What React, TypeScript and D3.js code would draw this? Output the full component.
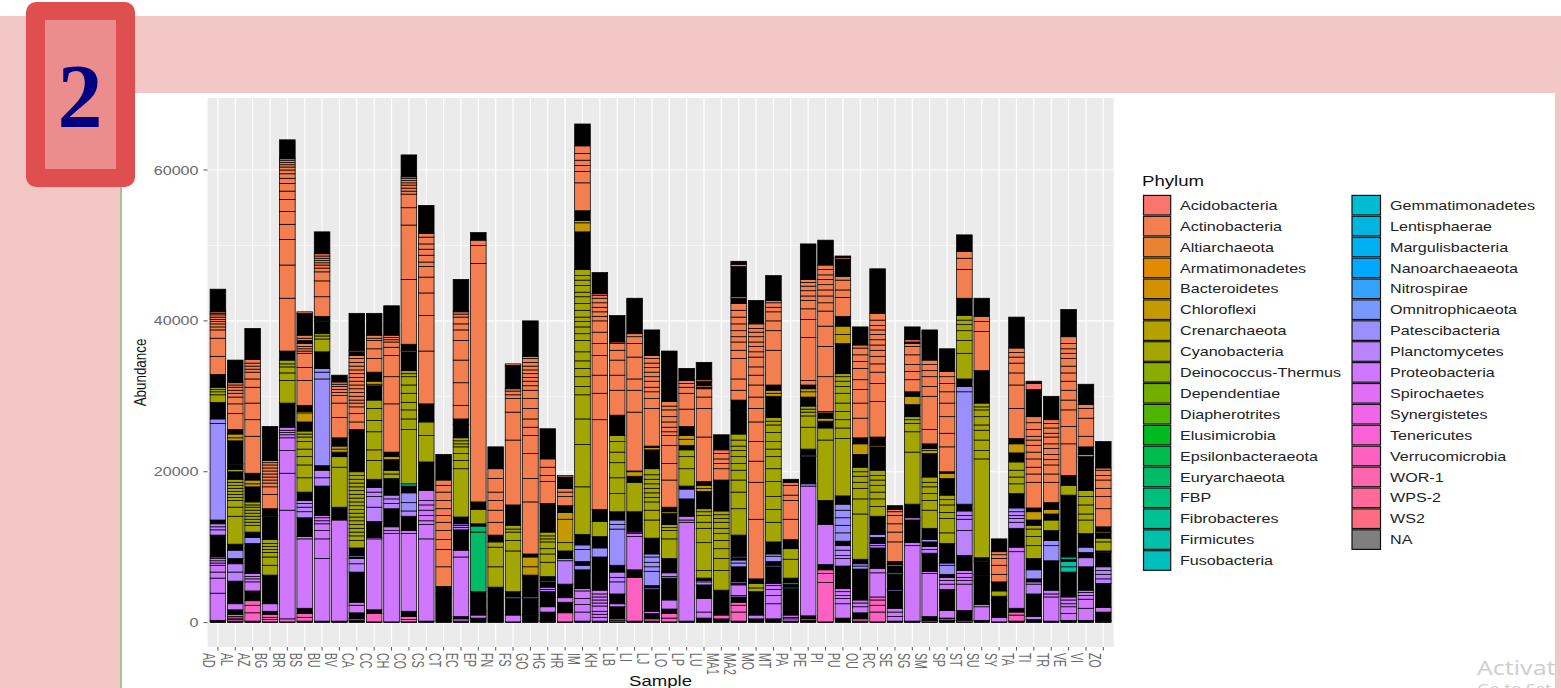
import React from "react";
import * as d3 from "d3";

const phylaLeft = ["Acidobacteria","Actinobacteria","Altiarchaeota","Armatimonadetes","Bacteroidetes","Chloroflexi","Crenarchaeota","Cyanobacteria","Deinococcus-Thermus","Dependentiae","Diapherotrites","Elusimicrobia","Epsilonbacteraeota","Euryarchaeota","FBP","Fibrobacteres","Firmicutes","Fusobacteria"];
const coloursLeft = ["#F8766D","#F37F50","#EA8331","#E08B00","#D29100","#C49A00","#B5A000","#A3A500","#8AAB00","#72AE00","#4FB400","#00BA1E","#00BB4E","#00BC68","#00BF7D","#00C094","#00C0A8","#00BFBC"];
const phylaRight = ["Gemmatimonadetes","Lentisphaerae","Margulisbacteria","Nanoarchaeaeota","Nitrospirae","Omnitrophicaeota","Patescibacteria","Planctomycetes","Proteobacteria","Spirochaetes","Synergistetes","Tenericutes","Verrucomicrobia","WOR-1","WPS-2","WS2","NA"];
const coloursRight = ["#00BCD0","#00B6E0","#00B0F0","#00A8FF","#35A2FF","#7698FF","#9B8FFF","#BA83FF","#CF78FF","#E36EF6","#F166E8","#FB61D7","#FF61C2","#FF65AE","#FF6A98","#FF6C81","#7F7F7F"];

// codes used in the stacks; K is where the many thin OTU outlines merge into solid black
const K = "#000000", A = "#F37F50", R = "#F8766D", G = "#C49A00", C = "#A3A500", E = "#00BC68", F = "#00C0A8", T = "#9B8FFF", L = "#BA83FF", P = "#CF78FF", V = "#FF61C2";

// each run: colour, then the cumulative tops of its segments (thousands of reads), bottom to top
const AD = [[K,.3],[P,3.9,5.9,6.7,7.6,7.9,8.2,8.5,8.7],[K,11.6],[L,12.3,12.7,13.1],[K,13.6],[T,26.4,27],[K,29.2],[C,30.2,30.6,30.9,31.2],[K,32.9],[A,35.3,37.7,38.8,39.2,39.6,39.9,40.2,40.5,40.8,41],[R,41.2],[K,44.2]];
const AL = [[K,.2],[V,.4,.6,.8,1.1],[K,1.7],[P,2.5],[K,5.5],[L,6.7,7.8],[K,8.5],[T,9.6],[K,10.4],[C,14.1,15.3,16.2,16.6,17,17.4,17.8,18.2,18.6,19],[K,20],[C,20.3],[K,21],[C,21.1],[K,24.1],[G,24.5,25],[K,25.6],[A,27.7,29,29.9,30.4,30.8,31.2,31.5,31.8],[K,34.8]];
const AZ = [[K,.2],[V,1.3,2.3,2.9],[K,4.2],[P,5.4,5.8,6.1,6.5],[K,9.8],[P,9.9],[K,10.5],[T,11.3],[K,12],[C,12.9,13.3,13.7,14.1,14.5,14.9,15.3,15.6,16],[K,18],[G,18.4,18.9],[K,19.8],[A,24.7,26.9,29.1,31.2,32.3,33.2,33.6,34,34.4,34.9],[K,39]];
const BG = [[K,.1],[V,.4,.7,1.1],[K,1.5],[P,2.5],[K,6.3],[C,7.6,8.7,9.3,9.7,10.1,10.5,11],[K,14.1],[G,14.2],[K,15.1],[A,17,18,18.5,18.9,19.3,19.7,20.1,20.5,20.9,21.2,21.5],[K,26]];
const BR = [[K,.1],[V,.5],[P,14.9,19.8,22.8,24.5,24.9,25.2,25.5,25.9],[K,29.1],[C,32.1,33.1,33.9,34.3,34.8],[K,36],[A,43,47.4,50.8,52.8,54.5,56.1,57.2,58.2,58.9,59.5,60,60.4,60.7,61,61.3,61.5],[K,64]];
const BS = [[K,.2],[V,.7,1.2],[K,1.9],[P,11.1,11.4],[K,13.9],[L,14.7,15.3,15.8,16.2],[K,17.3],[C,19.2,20.9,22,23,24,24.6,25,25.4],[K,26.6],[G,27.8,28],[K,28.8],[A,32.1,33.8,35.7,36,36.3,36.6,37],[K,37.4],[A,37.7,38.1],[K,41],[R,41.2]];
const BU = [[K,.2],[P,8.5,11.1,12.2,13.1,13.5,13.9,14.2],[K,18.1],[L,19.2,20.2],[K,20.8],[T,32.3,33.2,33.7],[K,35.9],[C,37.6,38,38.3],[K,39.9],[G,40],[K,40.6],[A,43.2,45.3,46.5,47,47.4,47.7,48,48.3,48.6,48.9],[K,51.8]];
const BV = [[K,.2],[P,13.6],[K,15.3],[C,20.6,22],[K,22.6],[G,23,23.4],[K,24.5],[A,27.2,29.1,30.1,30.5,30.9,31.3,31.6,31.9],[K,32.8]];
const CA = [[K,.3],[V,.5],[K,1.3],[P,2.3,2.7],[K,6.7],[L,7.8,8.5],[K,8.7],[T,8.9],[K,9.9],[C,10.9,11.5,12,12.5,13,13.5,14,14.5,15,15.5,16,16.5,17,17.5,18,18.5,19,19.5,20],[K,25],[G,25.1],[K,25.6],[A,26.6,27.7,28.6,29.1,29.5,30,30.5,31,31.5,32,32.5,33,33.5,34,34.5,35,35.4],[K,35.9],[A,36.1],[K,41]];
const CC = [[K,.1],[V,1.2],[K,1.7],[P,11.1,11.3],[K,13.4],[L,15.3,16.7,17.3,17.9],[K,19],[C,21.5,22.9,25.3,26.8,28.4,29.5],[K,31.4],[G,31.6,32],[K,33.2],[A,35,36.3,37.4,37.7,38.1],[K,41]];
const CH = [[K,.1],[P,11.8,12.2,12.7],[K,15.1],[L,15.8,16.4,16.9],[K,19.1],[C,19.7,20.2],[K,21.6],[G,22],[K,22.6],[A,29,32.6,35.4,36.5,37.2,37.5,37.8,38.1],[K,42]];
const CO = [[K,.1],[V,.4,.8],[K,1.5],[P,11.8,12.2],[K,14.1],[L,14.8],[T,15.9,17.2],[K,18.1],[F,18.4],[C,25.6,27,28.2,29.2,30.4,31.5,32.6,33,33.4],[K,35.9],[G,36.1],[K,36.9],[A,45.5,52.7,55,56.8,57.2,57.6,58,58.3,58.6,58.9,59.1],[K,62]];
const CS = [[K,.2],[P,11.1,13,13.5,14.2,14.9,15.6,16.2,17.5],[K,21.3],[C,24.8,26.6],[K,29],[A,36,40.7,43.7,45.8,47.2,47.8,48.7,49.5,50.2,51.1,51.6],[K,55.3]];
const CT = [[K,3.8],[G,3.9],[K,4.8],[A,7.4,9.7,11,12.2,13.3,14.2,15.1,16.2,17.3,18.2,18.9],[K,22.3]];
const EC = [[K,.2],[P,.5],[K,.8],[P,8.7,9.6],[K,12.3],[L,12.6,12.9],[T,13.1],[K,14],[C,20.4,21.5,22.4,23.3,23.7,24.1,24.5],[K,26.2],[G,26.3],[K,27],[A,28.8,31.8,34.8,37.4,38.8,39.6,40.5,40.9,41.2],[K,45.5]];
const EP = [[K,.6],[P,1],[K,1.4],[T,1.5],[K,3],[T,3.1],[K,4.1],[E,12,12.8],[K,13.1],[C,15],[K,16],[A,47.6,50,50.7],[K,51.7]];
const FN = [[K,4.7],[C,7.4,10,10.7],[K,11.6],[A,13.3,14.9,16.2,17.3,19.1,20.4],[K,23.3]];
const FS = [[K,.1],[P,1],[K,3.2],[T,3.4],[K,4.1],[C,9.5,10.9,12,12.4,12.9],[K,15.6],[A,24.2,27.9,29.7,30.2,30.7,31],[K,34.1],[R,34.3]];
const GO = [[K,1],[P,1.1],[K,3.2],[T,3.4],[K,5.8],[G,5.9],[K,6.3],[G,7.4,8.7],[K,9.1],[A,16,19.1,22.4,24.8,25.9,27,28.4,29.7,30.8,31.4,32,32.5,33,33.5,34,34.5,35,35.3],[K,40]];
const HG = [[K,.2],[V,.3],[K,1.4],[P,2.1],[K,4.1],[L,4.4,4.7],[K,5.4],[E,5.6],[K,6.1],[C,8,9.1,9.8,10.7,11.1,11.5,12],[K,15.8],[A,18.7,19.5,20.6,21.7],[K,25.7]];
const HR = [[K,.1],[V,1.3],[K,2.7],[P,3.3],[K,5.1],[L,8.2],[T,8.5],[K,9.5],[C,10.6],[G,13.7,14.6],[K,15.5],[A,16.7,17.3,17.8],[K,19.3],[R,19.5]];
const IM = [[K,.2],[P,1.4,2.4,3.2,4.2,4.5],[K,7],[T,7.6],[K,8.1],[T,9.7,10.3],[K,11.7],[C,18,23.6,27,30.2,31.3,32.6,33.7,34.7,35.9,37.4,38.3,39.2,39.9,40.5,41.4,42.3,43.2,43.8,44.7,45.4,46,46.8],[K,51.8],[G,53],[G,53.3],[K,54.6],[A,58.3,59.8,60.6,61.3,62.2,63.2],[K,66.1]];
const KH = [[K,.2],[P,.7,1.1,1.5,2.2,2.6,3,3.4,3.8,4.3],[K,8.7],[T,9.9],[K,11.4],[C,13.4],[K,15],[A,26.9,30.4,32.8,35.4,37,38.5,40,40.6,41.2,41.8,42.4,43,43.4],[R,43.6],[K,46.4]];
const LB = [[K,.1],[V,.3,.5],[K,2.1],[P,2.5],[K,3.8],[L,5.4,6,6.7],[K,7.6],[T,12.4,13,13.6],[K,14.7],[C,17.1,19.2,21.2,22.6,24,24.8],[K,27.5],[A,30.8,32.8,34.8,36.1,37],[K,37],[R,37.2],[K,40.7]];
const LI = [[K,.2],[V,6],[K,7],[P,11.4,11.8,12],[K,14.7],[C,18.6],[K,19.4],[G,20],[K,20.1],[A,27.9,30.8,32.3,35.2,37,37.9,38.3],[K,42.5],[R,42.6],[K,43]];
const LJ = [[K,.2],[V,.5],[K,1.2],[P,1.5],[K,4.4],[T,4.6],[K,4.9],[T,6.8,7.4,8,8.7,9.1],[K,11.2],[C,13.6,14.9,16,16.6,17.2,17.8,18.4,19,19.6,20.4],[K,22.9],[G,23.2],[K,23.4],[A,28.4,29.7,30.6,31.2,32,32.6,33.2,33.8,34.4,35,35.4],[K,38.8]];
const LO = [[K,.1],[V,.6,1.2],[K,1.8],[P,3],[K,5.9],[L,6.1,6.6],[K,8.5],[C,11.1,12.2,12.6,13],[K,14.5],[G,14.7],[K,15.3],[A,18.9,21.1,23.5,24.8,25.3,25.9,26.6,27.3,28.2,28.7,29.3],[K,36]];
const LP = [[K,.2],[P,13.3,13.6,14.1],[K,16.4],[T,17.7],[K,18.1],[C,20.4,22,22.9],[K,23.5],[G,24.3,24.8],[K,26],[A,28.3,30.4,31.2,31.7,32.1],[K,33.7]];
const LU = [[K,.6],[P,1.4,3.2],[K,5],[L,5.4],[T,5.6],[K,5.9],[C,6.9],[K,6.9],[C,10.6,12.5,13.3,14.2,14.7,15.1],[K,17.4],[G,17.8,18.2],[K,18.7],[A,24.6,28.4,29.9,31],[K,31.2],[R,31.4],[K,32],[A,32.2],[K,34.5]];
const MA1 = [[K,.4],[V,.5,1],[K,4.3],[C,6.9,8.5,9.8,10.9,11.8,12.5,13.3,13.8,14.3,14.8],[K,18.9],[A,20.4,21.1,21.7,22.4,22.9],[K,24.9]];
const MA2 = [[K,.2],[V,1.4,2.3,2.7],[K,3.4],[P,3.6,5],[K,5.2],[L,5.4],[K,7.4],[T,7.9,8.3],[K,8.6],[T,8.8],[K,11.6],[C,15.1,17.3,18.9,20.2,21.1,22,22.8,23.4,24.2,25],[K,28.1],[G,28.2],[K,29.5],[A,30.8,32.3,35,36.1,37.2,37.9,38.7,39.6,40.5,41.4,42.3],[K,43],[A,43.2],[K,47.2],[R,47.5],[K,47.9]];
const MO = [[K,.5],[P,1],[K,4.1],[C,4.6,5.2],[K,5.8],[A,13.7,18.6,21.4,24,26.6,28.4,29.9,31.5,32.8,33.9,35.2,35.9,36.6,37.2,37.9,38.5,39,39.6],[K,42.7]];
const MT = [[K,.5],[P,2.5,3.6,4.4,4.9,5.2],[K,7.4],[T,7.6],[K,8.1],[T,8.8,9.1],[K,10.7],[C,13.3,15,16.7,18.7,20.4,22,23,24,25.2,26.2,26.7,27.2],[K,30],[G,30.4,30.8],[K,31.5],[A,36.1,38.7,40,41.2,41.8,42.4],[R,42.7],[K,46]];
const PA = [[K,.2],[P,.5,.7,1],[K,4.5],[F,4.7],[K,5.1],[E,5.3],[K,5.9],[C,8.4,9.8],[K,11],[A,13.7,16.2,16.9,18.2],[R,18.6],[K,19]];
const PE = [[K,.3],[V,.5],[K,.9],[P,18.1],[T,18.4],[K,22],[T,22.2],[K,23],[C,25.9,27.4,27.9,28.3,28.7],[K,29.9],[G,30.6,31],[K,31.5],[A,32.1,37.8,40.2,41.6,42.7,43.3,44,44.6,45.1,45.5],[K,50.2]];
const PI = [[K,.1],[V,5.3,6.5,7],[K,7.7],[P,13],[K,16.2],[C,24.2,25.8],[K,26.7],[G,27.1],[K,27.8],[G,28],[A,32.6,36.6,39.3,41.3,42.4,43.3,44.1,44.8,45.5,46.1,46.8,47.4],[K,50.7]];
const PU = [[K,.6],[P,2.5,3.2,3.6,4.1,4.5],[K,7.5],[L,8.5,8.9,9.6,10.2],[K,10.8],[T,11.9,12.9,13.9,14.9,15.7],[K,16.8],[C,24.4,25.8,26.9,28,29.1,30.4,31.3,32,32.6,33],[K,37],[G,38.2,39.3],[K,40.6],[A,43.1,44.1,45.4,45.9],[K,48.2],[R,48.4],[K,48.6]];
const OU = [[K,.2],[V,.5],[K,1.3],[P,2.1,2.6,3],[K,7.1],[T,7.5,7.8],[K,8.4],[C,14.4,16.4,17.8,18.6,19.4,20,20.6],[K,22.3],[G,23.7],[K,24.5],[A,27.1,29.1,30.9,32.2,33.7,34.6,35.5,36.4,36.8],[K,39.2]];
const RC = [[K,.1],[V,1.4,2.3,3,3.4],[P,6.6,7.2],[K,9.9],[L,10.2,10.5],[K,11.3],[T,11.7],[K,14.1],[C,15.4,16.4,17.3,18.2,18.9,19.5,20.2],[K,21.3],[C,21.4],[K,23.3],[G,23.5],[K,24.6],[A,29.3,31.7,33.2,34.3,35.3,36.1,36.8,37.5,38.2,38.8,39.4,40.1,41],[K,46.9]];
const SE = [[K,.2],[P,.8,1.4,1.9],[K,4.2],[T,4.4],[K,6.4],[E,6.6],[K,7.5],[G,7.7],[K,8.1],[A,10.7,12,13.1,14.2,14.7],[R,15],[K,15.5]];
const SG = [[K,.2],[P,10.2,10.6],[K,13.6],[P,13.9],[K,15.7],[C,22.6,25.3,26.4,26.9,27.3],[K,28.9],[G,30],[K,30.6],[A,32.2,33.3,34.2,35.5,36.6,37],[K,37.2],[R,37.5],[K,39.2]];
const SM = [[K,.1],[V,.3],[K,.8],[P,6.5,6.8],[K,9.2],[L,9.7,10.1],[K,10.7],[T,11],[K,12.5],[C,14.9,16.2,17.1,18,18.6,19.3],[K,22.4],[G,22.8,23.1],[K,23.7],[A,25.6,30,31.3,32.6,33.4,34.2,34.8],[K,38.4],[R,38.5],[K,38.8]];
const SP = [[K,.3],[P,.5],[K,.6],[P,1.6],[K,4.4],[P,5.1,5.6,6],[K,6.4],[T,7.6,7.9],[K,10.5],[C,11.9,13.8,14.6,15.6,16.3,16.9],[K,19.1],[G,19.8],[K,20],[A,23.3,25.1,27.3,29.1,30.6,31.7,32.6,33.3],[K,36.3]];
const ST = [[K,.1],[V,.3],[K,1.6],[P,5.1,5.6,6,6.5,6.9],[K,8.9],[L,12.2,13.7,14.2,14.8],[K,15.7],[T,30.6,31.3],[K,32.3],[C,35.7,37.4,38.7,39.5,40.1,40.7],[K,43],[A,46.8,48.3,49.2],[K,51.4]];
const SU = [[K,.3],[P,2.1,2.4],[K,5.4],[L,5.5],[K,6.3],[T,6.4],[K,8.1],[F,8.2],[K,8.6],[C,21.7,22.8,24.2,25.5,26.2,27.3,28.2,28.6,29.1],[K,33.4],[A,38.6,39.9,40.6],[K,43]];
const SY = [[K,.1],[P,.7],[K,2.9],[E,3],[K,3.5],[C,4.2],[K,5.4],[A,6.4,7.6,8.5,9,9.4],[K,11.1]];
const TA = [[K,.2],[V,1,1.4],[K,1.9],[P,9.4,10],[K,12.5],[L,13.3,13.8,14.2,14.7],[T,15.2],[K,17.1],[C,18.4,19.3,20.2,21.3],[K,22.5],[G,23.7],[K,24.4],[A,28.4,31.5,33.1,34.4,35.2,35.8,36.4],[K,40.5]];
const TI = [[K,.4],[P,.8],[K,3.8],[L,5.1,5.4],[K,5.8],[T,7],[K,8.5],[C,10.2,11.4,12.4,12.9],[K,13.6],[G,14.7],[K,15.2],[A,18.6,19.7,20.6,21.7,22.6,23.5,24.2,24.7,25.6,26.5,27.3],[K,30.9],[R,31.7],[K,32]];
const TR = [[K,.2],[P,3.4,3.8,4.3],[K,8.2],[T,10.2,10.9],[K,12.2],[C,13.6],[K,14.4],[G,15],[K,15.9],[A,18.6,19.7,20.9,21.6,22.3,23.1,23.7,24.6,25.1,25.8,26.4,26.9],[K,30]];
const VE = [[K,.3],[P,1.2,2.1,2.5,3,3.4],[K,6.7],[F,7.4,8.1],[K,8.4],[F,8.7],[K,16.9],[C,18.2],[K,19.5],[A,23.7,26,28.2,29.5,30.8,32,33.1,34,35,35.7,36.3,37,37.9],[K,41.5]];
const VI = [[K,.3],[P,1.9,3.1,3.6,4,4.3],[K,7.4],[L,8.6],[K,9.3],[T,10],[K,11.8],[C,13.6,14.4,15.6,16.7,17.5],[K,22],[G,22.3],[K,23.3],[A,24.7,27.1,28.4,28.9],[K,31.6]];
const ZO = [[K,.2],[V,.3],[K,1.4],[P,2],[K,5.2],[L,5.8,6.4,6.9,7.4],[K,9.3],[T,9.4],[K,9.5],[C,10.7,11.2],[K,11.9],[G,12.1],[K,12.7],[A,15.1,16.7,17.8,18.9,19.5,20.2,20.5],[K,24]];

const sampleNames = ["AD","AL","AZ","BG","BR","BS","BU","BV","CA","CC","CH","CO","CS","CT","EC","EP","FN","FS","GO","HG","HR","IM","KH","LB","LI","LJ","LO","LP","LU","MA1","MA2","MO","MT","PA","PE","PI","PU","OU","RC","SE","SG","SM","SP","ST","SU","SY","TA","TI","TR","VE","VI","ZO"];
const sampleStacks: any[] = [AD,AL,AZ,BG,BR,BS,BU,BV,CA,CC,CH,CO,CS,CT,EC,EP,FN,FS,GO,HG,HR,IM,KH,LB,LI,LJ,LO,LP,LU,MA1,MA2,MO,MT,PA,PE,PI,PU,OU,RC,SE,SG,SM,SP,ST,SU,SY,TA,TI,TR,VE,VI,ZO];
const yTicks = [0, 20000, 40000, 60000];
const yMinor = [10000, 30000, 50000];

const PINK = "#F4C7C7";
const SX = 1.24;

export default function App() {
  const x = d3.scalePoint<string>().domain(sampleNames).range([207.5, 1113.7]).padding(0.6);
  const barW = x.step() * 0.9;
  const y = d3.scaleLinear().domain([0, 60000]).range([622.6, 170]);
  const font = "'Liberation Sans', Arial, sans-serif";

  const flatten = (stack: any[]) => {
    const out: { fill: string; lo: number; hi: number }[] = [];
    let prev = 0;
    stack.forEach(([fill, ...tops]: any[]) => {
      tops.forEach((t: number) => {
        if (t > prev) out.push({ fill, lo: prev * 1000, hi: t * 1000 });
        prev = Math.max(prev, t);
      });
    });
    return out;
  };

  const hText = (tx: number, ty: number, s: string, size: number, fill: string, anchor = "start") => (
    <text transform={`translate(${tx},${ty}) scale(${SX},1)`} fontSize={size} fill={fill} textAnchor={anchor as any} fontFamily={font}>{s}</text>
  );

  const legendCol = (names: string[], cols: string[], keyX: number, keyW: number, labelX: number) =>
    names.map((n, i) => {
      const cy = 205.2 + i * 20.9;
      return (
        <g key={n}>
          <rect x={keyX} y={cy - 9.8} width={keyW} height={19.6} fill={cols[i]} stroke="#111" strokeWidth={1.2} />
          {hText(labelX, cy + 4.6, n, 13, "#222")}
        </g>
      );
    });

  return (
    <svg width={1561} height={688} style={{ position: "absolute", left: 0, top: 0, display: "block", background: "#fff" }}>
      <rect x={0} y={16} width={1561} height={77} fill={PINK} />
      <rect x={0} y={16} width={120} height={672} fill={PINK} />
      <rect x={120} y={93} width={2} height={595} fill="#A9BF9B" />

      <rect x={207.5} y={98} width={906.2} height={549} fill="#EBEBEB" />
      {yMinor.map((t) => <line key={t} x1={207.5} x2={1113.7} y1={y(t)} y2={y(t)} stroke="#fff" strokeWidth={0.6} />)}
      {yTicks.map((t) => <line key={t} x1={207.5} x2={1113.7} y1={y(t)} y2={y(t)} stroke="#fff" strokeWidth={1.2} />)}
      {sampleNames.map((s) => <line key={s} x1={x(s)} x2={x(s)} y1={98} y2={647} stroke="#fff" strokeWidth={1.2} />)}

      {sampleNames.map((s, i) => (
        <g key={s}>
          {flatten(sampleStacks[i]).map((b, j) => (
            <rect key={j} x={x(s)! - barW / 2} width={barW} y={y(b.hi)} height={y(b.lo) - y(b.hi)} fill={b.fill} stroke="#000" strokeWidth={0.75} />
          ))}
        </g>
      ))}

      {yTicks.map((t) => (
        <g key={t}>
          <line x1={203.5} x2={207.5} y1={y(t)} y2={y(t)} stroke="#555" strokeWidth={1} />
          {hText(198.5, y(t) + 4.6, String(t), 13, "#6A6A6A", "end")}
        </g>
      ))}
      {sampleNames.map((s) => (
        <g key={s}>
          <line x1={x(s)} x2={x(s)} y1={647} y2={650.5} stroke="#555" strokeWidth={1} />
          <text transform={`translate(${x(s)! - 14.5},653) scale(1.55,1) rotate(90)`} fontSize={10.6} fill="#6A6A6A" fontFamily={font}>{s}</text>
        </g>
      ))}
      {hText(660.5, 686, "Sample", 15, "#111", "middle")}
      <text transform={`translate(146,372.5) scale(1.24,1) rotate(-90)`} fontSize={13.4} fill="#111" textAnchor="middle" fontFamily={font}>Abundance</text>

      {hText(1142, 186, "Phylum", 15, "#111")}
      {legendCol(phylaLeft, coloursLeft, 1143.5, 27.2, 1180)}
      {legendCol(phylaRight, coloursRight, 1352, 28.5, 1390)}

      <text transform="translate(1477,675) scale(1.24,1)" fontSize={20} fill="#CFCFCF" fontFamily="'Noto Sans', sans-serif">Activat</text>
      <text transform="translate(1477,694) scale(1.24,1)" fontSize={14} fill="#CFCFCF" fontFamily="'Noto Sans', sans-serif">Go to Set</text>
      <rect x={1555} y={16} width={6} height={672} fill={PINK} />

      <rect x={26} y={2} width={109} height={185} rx={10} fill="#E04F4F" />
      <rect x={45} y={20} width={71} height={149} fill="#EB8D8D" />
      <text x={80} y={127} fontSize={90} fontWeight="bold" fill="#000080" textAnchor="middle" fontFamily="'Liberation Serif', serif">2</text>
    </svg>
  );
}
